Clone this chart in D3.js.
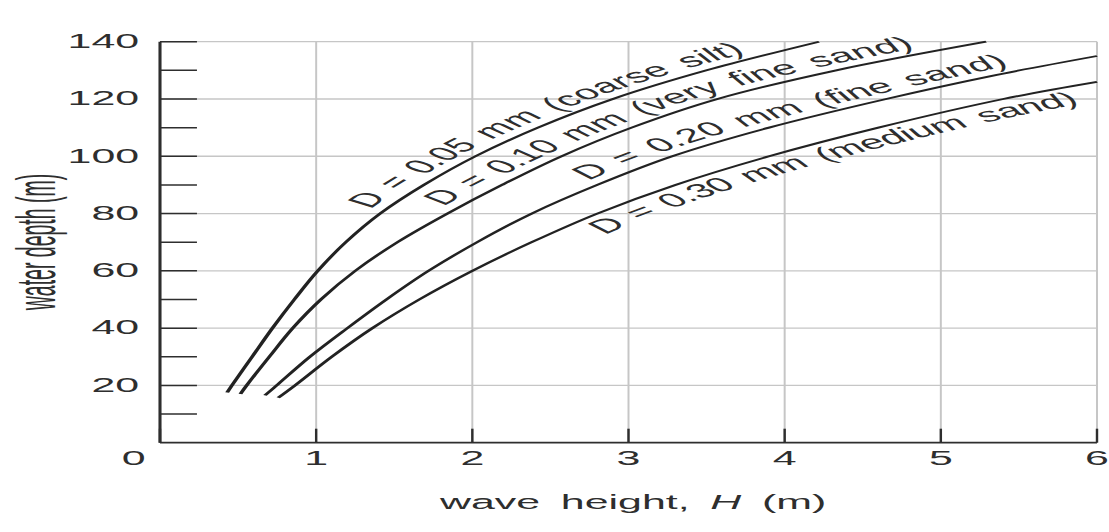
<!DOCTYPE html>
<html>
<head>
<meta charset="utf-8">
<script src="https://cdn.jsdelivr.net/npm/d3@7"></script>
<style>
	body { margin: 0; background: #fff; }
	svg { display: block; }
</style>
</head>
<body>
<div id="chart"></div>
<script>

// water depth (m) at which waves of height H (m) start to move the bed, per grain size D
const silt005 = [[0.43, 17.5], [0.46, 20], [0.59, 30], [0.72, 40], [0.86, 50], [1.01, 60], [1.19, 70], [1.41, 80], [1.69, 90], [2.02, 100], [2.42, 110], [2.9, 120], [3.5, 130], [4.22, 140]];
const sand010 = [[0.515, 17], [0.555, 20], [0.7, 30], [0.85, 40], [1.03, 50], [1.25, 60], [1.52, 70], [1.84, 80], [2.19, 90], [2.57, 100], [3.02, 110], [3.57, 120], [4.33, 130], [5.29, 140]];
const sand020 = [[0.672, 16.5], [0.747, 20], [0.96, 30], [1.2, 40], [1.45, 50], [1.72, 60], [2.03, 70], [2.38, 80], [2.8, 90], [3.28, 100], [3.9, 110], [4.65, 120], [5.32, 128], [6.0, 135]];
const sand030 = [[0.757, 15.7], [0.864, 20], [1.1, 30], [1.36, 40], [1.66, 50], [2.0, 60], [2.38, 70], [2.8, 80], [3.3, 90], [3.9, 100], [4.6, 110], [5.4, 120], [6.0, 126]];

const curveLabels = ['D = 0.05 mm (coarse silt)', 'D = 0.10 mm (very fine sand)', 'D = 0.20 mm (fine sand)', 'D = 0.30 mm (medium sand)'];

const xTicks = [0, 1, 2, 3, 4, 5, 6];
const yTicks = [20, 40, 60, 80, 100, 120, 140];
const yMinorTicks = [10, 30, 50, 70, 90, 110, 130];

const xTitle = 'wave height, ';
const xTitleVar = 'H';
const xTitleUnit = ' (m)';
const yTitle = 'water depth (m)';

const width = 1109;
const height = 532;
// the scanned figure is stretched sideways, so the whole drawing is too
const stretch = 2.2;
const font = '"Liberation Sans", Arial, Helvetica, sans-serif';
const ink = '#2e2e2e';

const svg = d3.select('#chart')
	.append('svg')
		.attr('width', width)
		.attr('height', height);

const g = svg.append('g')
	.attr('transform', `scale(${stretch},1)`)
	.attr('font-family', font);

const x = d3.scaleLinear()
	.domain([0, 6])
	.range([160 / stretch, 1097 / stretch]);

const y = d3.scaleLinear()
	.domain([0, 140])
	.range([442.7, 41.7]);

// grid
g.append('g')
	.selectAll('line')
	.data(yTicks).join('line')
		.attr('x1', x(0))
		.attr('x2', x(6))
		.attr('y1', d => y(d))
		.attr('y2', d => y(d))
		.attr('stroke', '#c6c6c6')
		.attr('stroke-width', 1.3);

g.append('g')
	.selectAll('line')
	.data(xTicks.slice(1)).join('line')
		.attr('x1', d => x(d))
		.attr('x2', d => x(d))
		.attr('y1', y(0))
		.attr('y2', y(140))
		.attr('stroke', '#c6c6c6')
		.attr('stroke-width', 0.9);

// y axis, ticks drawn inside the frame
const yAxis = d3.axisLeft(y)
	.tickValues(yTicks.concat(yMinorTicks))
	.tickSizeInner(-16.8)
	.tickSizeOuter(0)
	.tickPadding(9.5)
	.offset(0)
	.tickFormat(d => yTicks.includes(d) ? d : '');

const ya = g.append('g')
	.attr('transform', `translate(${x(0)},0)`)
	.call(yAxis)
	.attr('font-family', font)
	.attr('font-size', 19.5);

ya.select('.domain').attr('stroke', ink).attr('stroke-width', 1.4);
ya.selectAll('.tick line').attr('stroke', ink).attr('stroke-width', 1.5);
ya.selectAll('.tick text').attr('fill', ink);

// x axis
const xAxis = d3.axisBottom(x)
	.tickValues(xTicks)
	.tickSizeInner(-14)
	.tickSizeOuter(0)
	.tickPadding(8)
	.offset(0)
	.tickFormat(d3.format('d'));

const xa = g.append('g')
	.attr('transform', `translate(0,${y(0)})`)
	.call(xAxis)
	.attr('font-family', font)
	.attr('font-size', 19.5);

xa.select('.domain').attr('stroke', ink).attr('stroke-width', 1.8);
xa.selectAll('.tick line').attr('stroke', ink).attr('stroke-width', 1.1);
xa.selectAll('.tick text').attr('fill', ink);
xa.selectAll('.tick text').filter(d => d === 0).attr('dx', -12);

// curves
const line = d3.line()
	.x(d => x(d[0]))
	.y(d => y(d[1]))
	.curve(d3.curveCatmullRom.alpha(0.5));

const series = [silt005, sand010, sand020, sand030];

const paths = g.append('g')
	.selectAll('path')
	.data(series).join('path')
		.attr('id', (d, i) => 'curve' + i)
		.attr('d', line)
		.attr('fill', 'none')
		.attr('stroke', '#222')
		.attr('stroke-width', 1.8);

// distance along a path where it reaches a given x
function lengthAt(node, px) {
	let lo = 0, hi = node.getTotalLength();
	for (let k = 0; k < 40; k++) {
		const mid = (lo + hi) / 2;
		if (node.getPointAtLength(mid).x < px) lo = mid; else hi = mid;
	}
	return lo;
}

const labelStart = [1.42, 1.88, 2.8, 2.68];
const labelShift = [-6, -6, -6, 18];

paths.each(function(d, i) {
	g.append('text')
		.attr('font-size', 19.5)
		.attr('word-spacing', 2.5)
		.attr('fill', ink)
		.attr('dy', labelShift[i])
		.append('textPath')
			.attr('href', '#curve' + i)
			.attr('startOffset', lengthAt(this, x(labelStart[i])))
			.text(curveLabels[i]);
});

// axis titles
const title = g.append('text')
	.attr('x', x(3.03))
	.attr('y', 509)
	.attr('text-anchor', 'middle')
	.attr('font-size', 19.5)
	.attr('word-spacing', 4)
	.attr('fill', ink);
title.append('tspan').text(xTitle);
title.append('tspan').attr('font-style', 'italic').text(xTitleVar);
title.append('tspan').text(xTitleUnit);

g.append('text')
	.attr('transform', `translate(${35 / stretch},242) rotate(-90) scale(1,1.3)`)
	.attr('text-anchor', 'middle')
	.attr('dy', '0.35em')
	.attr('font-size', 19.5)
	.attr('fill', ink)
	.text(yTitle);

</script>
</body>
</html>
